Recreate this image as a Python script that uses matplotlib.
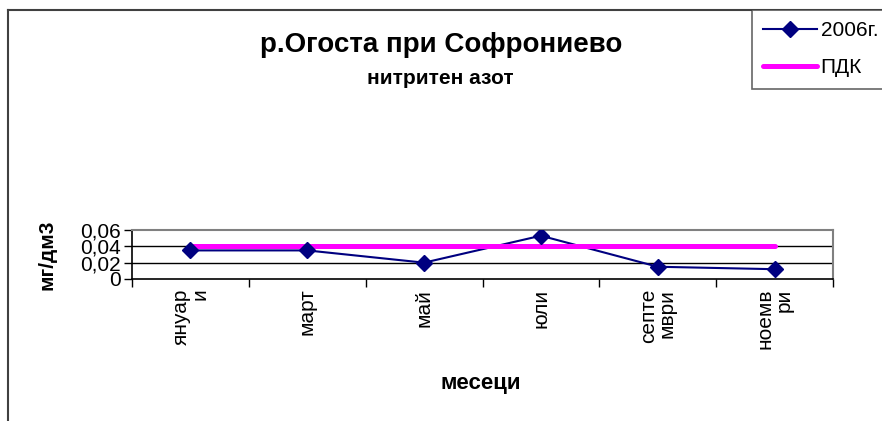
import numpy as np
import matplotlib.pyplot as plt
from matplotlib.lines import Line2D

plt.rcParams['font.family'] = ['Liberation Sans', 'DejaVu Sans']

# данни
months = ["януар\nи", "март", "май", "юли", "септе\nмври", "ноемв\nри"]
values_2006 = [0.035, 0.035, 0.020, 0.053, 0.015, 0.012]
pdk = [0.04, 0.04, 0.04, 0.04, 0.04, 0.04]
yticks = [0, 0.02, 0.04, 0.06]
ytick_labels = ["0", "0,02", "0,04", "0,06"]

W, H = 882, 421
fig = plt.figure(figsize=(W / 100, H / 100), dpi=100)

def fx(px):
    return px / W

def fy(py):
    return 1 - py / H

ax = fig.add_axes([fx(132), fy(279), fx(833) - fx(132), fy(230) - fy(279)])
x = np.arange(len(months))

ax.plot(x, values_2006, color="#000080", lw=1.5, zorder=2)
ax.plot(x, pdk, color="#FF00FF", lw=3.6, solid_capstyle="round", zorder=3)
ax.plot(x, values_2006, ls="none", marker="D", ms=8, color="#000080", zorder=4)

ax.set_xlim(-0.5, len(months) - 0.5)
ax.set_ylim(0, 0.06)
ax.set_yticks(yticks)
ax.set_yticklabels(ytick_labels, fontsize=15)
for yv in yticks[1:3]:
    ax.axhline(yv, color="black", lw=1, zorder=1)

ax.set_xticks(x)
ax.set_xticklabels(months, rotation=90, fontsize=15, va="top", ha="center",
                   multialignment="right", linespacing=0.95)
ax.set_xticks(np.arange(len(months) + 1) - 0.5, minor=True)
ax.tick_params(axis="x", which="major", length=0, pad=7)
ax.tick_params(axis="x", which="minor", length=6, width=1, direction="out")
ax.tick_params(axis="y", length=6, width=1, direction="out", pad=2)

for side in ["top", "right"]:
    ax.spines[side].set_color("#808080")
    ax.spines[side].set_linewidth(1.5)
for side in ["left", "bottom"]:
    ax.spines[side].set_color("black")
    ax.spines[side].set_linewidth(1.2)

ax.set_ylabel("мг/дм3", fontsize=15, fontweight="bold")
ax.yaxis.set_label_coords((56 - 132) / 701, 0.5)
fig.text(fx(481), fy(384), "месеци", fontsize=16, fontweight="bold",
         ha="center", va="center")

fig.text(fx(441), fy(45), "р.Огоста при Софрониево", fontsize=20,
         fontweight="bold", ha="center", va="center")
fig.text(fx(440), fy(78), "нитритен азот", fontsize=15,
         fontweight="bold", ha="center", va="center")

# рамка на диаграмата
fig.add_artist(Line2D([fx(8), fx(8)], [fy(10), 0], color="#404040", lw=1.5))
fig.add_artist(Line2D([fx(8), 1], [fy(10), fy(10)], color="#404040", lw=1.5))

handles = [
    Line2D([], [], color="#000080", lw=1.5, marker="D", ms=8),
    Line2D([], [], color="#FF00FF", lw=3.6, solid_capstyle="round"),
]
leg = fig.legend(handles, ["2006г.", "ПДК"], loc="upper left",
                 bbox_to_anchor=(fx(752), fy(10)), fontsize=15,
                 frameon=True, fancybox=False, edgecolor="#404040",
                 handlelength=2.55, handletextpad=0.2, borderpad=0.55,
                 labelspacing=0.85, borderaxespad=0)
leg.get_frame().set_linewidth(1.2)

fig.savefig("out.png", dpi=100)
